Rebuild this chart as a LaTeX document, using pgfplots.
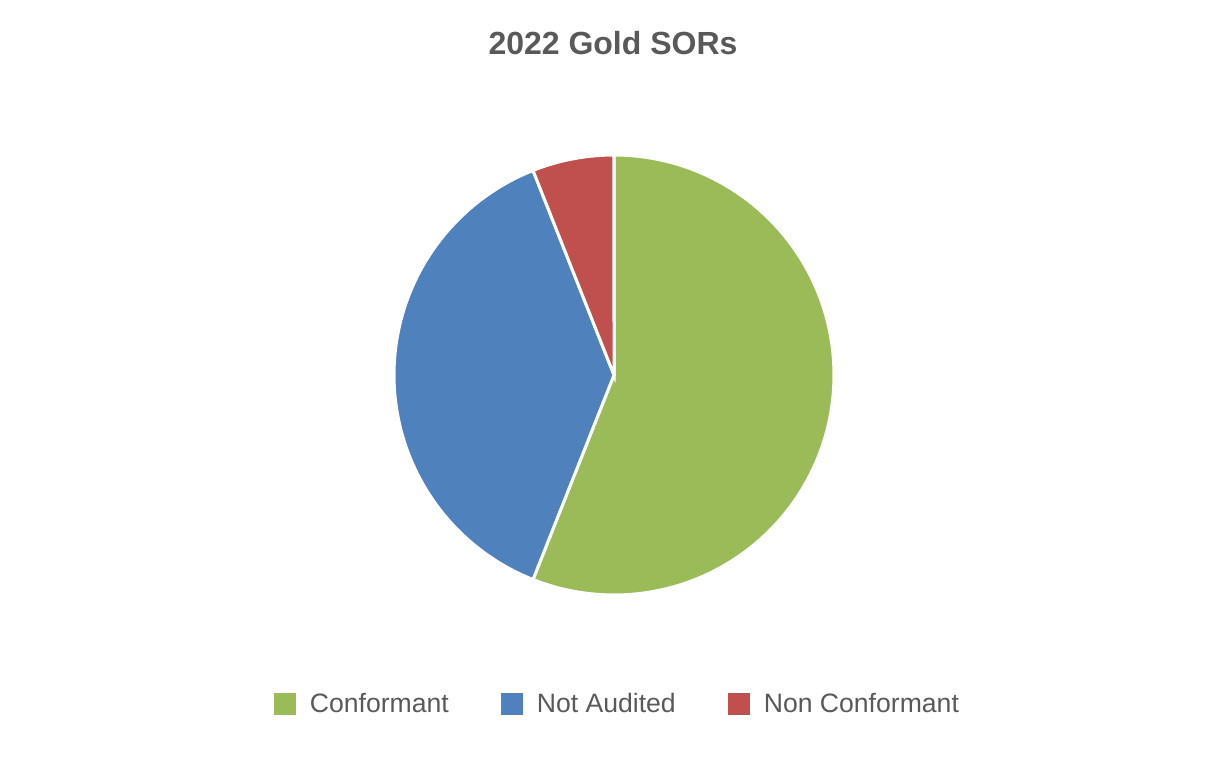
\documentclass[border=0pt]{standalone}
\usepackage{pgfplots}
\pgfplotsset{compat=1.18}
\usepackage{fontspec}
\setmainfont{Liberation Sans}
\definecolor{cgreen}{HTML}{9BBB59}
\definecolor{cblue}{HTML}{4F81BD}
\definecolor{cred}{HTML}{C0504D}
\definecolor{ctext}{HTML}{595959}
% data (percent)
\def\vConf{56}
\def\vNot{38}
\def\vNon{6}
\pgfmathsetmacro{\tot}{\vConf+\vNot+\vNon}
\pgfmathsetmacro{\aA}{90}
\pgfmathsetmacro{\aB}{\aA-\vConf/\tot*360}
\pgfmathsetmacro{\aC}{\aB-\vNot/\tot*360}
\pgfmathsetmacro{\aD}{\aC-\vNon/\tot*360}
\begin{document}
\begin{tikzpicture}[x=1pt,y=1pt]
\path[use as bounding box] (0,0) rectangle (613,380);
\node[font=\fontsize{16}{19}\selectfont\bfseries, text=ctext] at (306.5,358.5) {2022 Gold SORs};
\begin{axis}[
  at={(197pt,82.5pt)}, anchor=south west,
  width=220pt, height=220pt, scale only axis,
  xmin=-1, xmax=1, ymin=-1, ymax=1,
  hide axis, clip=false,
  legend columns=3,
  legend style={at={(axis cs:0.02,-1.495)}, anchor=center, draw=none, fill=none,
    font=\fontsize{13.3}{15}\selectfont, text=ctext,
    /tikz/every even column/.append style={column sep=24pt},
    inner sep=0pt},
  legend cell align=left,
  legend image code/.code={\fill[#1,draw=none] (0pt,-5.5pt) rectangle (11pt,5.5pt); \path[draw=none,fill=none] (0pt,0pt) -- (16pt,0pt);},
]
\addplot[fill=cgreen, draw=white, line width=1.5pt, domain=\aB:\aA, samples=120, variable=\t]
  ({cos(\t)},{sin(\t)}) -- (axis cs:0,0) -- cycle;
\addlegendentry{Conformant}
\addplot[fill=cblue, draw=white, line width=1.5pt, domain=\aC:\aB, samples=100, variable=\t]
  ({cos(\t)},{sin(\t)}) -- (axis cs:0,0) -- cycle;
\addlegendentry{Not Audited}
\addplot[fill=cred, draw=white, line width=1.5pt, domain=\aD:\aC, samples=30, variable=\t]
  ({cos(\t)},{sin(\t)}) -- (axis cs:0,0) -- cycle;
\addlegendentry{Non Conformant}
\end{axis}
\end{tikzpicture}
\end{document}
